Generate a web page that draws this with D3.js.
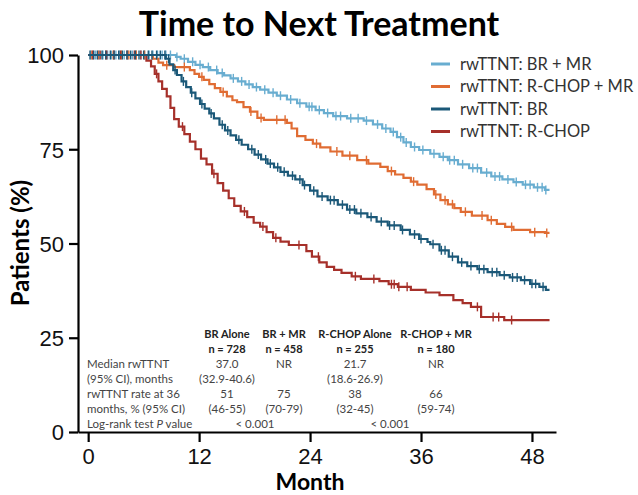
<!DOCTYPE html>
<html>
<head>
<meta charset="utf-8">
<script src="https://cdn.jsdelivr.net/npm/d3@7"></script>
<style>
  body { margin: 0; background: #fff; }
  svg { font-family: Lato, "Liberation Sans", Arial, sans-serif; }
</style>
</head>
<body>
<div id="chart"></div>
<script>
// KM step points: [month, % patients]
const brmr = [[0,100],[9,100],[9.5,99.5],[10,99],[10.8,98.2],[11.6,97.4],[12.4,96.8],[13.2,96],[14,95.2],[14.7,94.6],
  [15.4,93.8],[16.2,93],[17,92.2],[17.8,91.5],[18.6,90.8],[19.5,90],[20.4,89.2],[21.5,88.2],[22.6,87.2],[23.6,86.3],
  [24.6,85.4],[25.5,84.6],[26.5,83.8],[28,83.2],[29.8,82.6],[30.8,81.6],[31.8,80.5],[32.7,79.6],[33.4,78.2],[34.1,76.8],
  [34.9,75.6],[35.8,74.8],[37,73.8],[38,73],[38.9,72.1],[40,71],[41.2,70],[42.5,68.8],[43.6,67.8],[44.8,67],
  [46,66.3],[47,65.6],[48.2,64.9],[49.4,64.2],[49.9,64.2]];
const rchopmr = [[0,100],[6.7,100],[7,99],[7.6,98],[8.1,97.3],[9.3,96.8],[11,96],[11.5,95],[12,94.2],[12.5,93.4],
  [13.1,92.3],[13.7,91.2],[14.3,90.2],[15,89],[15.6,88],[16.1,87.5],[16.8,86.2],[17.5,85],[18.3,83.3],[19,82.8],
  [21.5,82],[22,80.5],[22.6,78.5],[23.5,77.5],[24.3,76.5],[25.1,75.5],[26.2,74.4],[27.5,73.3],[29.1,72.1],[30.3,71.2],
  [31.6,70.3],[32.4,69.2],[33.2,68.3],[34.1,67.4],[34.9,66.4],[35.6,65.6],[36.6,64.4],[37.4,63],[38.1,61.5],[38.9,60.4],
  [39.6,59.4],[40.3,58.4],[41.5,57.4],[43.2,56.2],[44.2,55.2],[45.1,54.4],[46,53.6],[47.8,53],[49.4,52.8],[49.9,52.8]];
const br = [[0,100],[8,100],[8.4,99],[8.8,97.5],[9.2,96],[9.6,94.7],[10.1,93],[10.6,91.5],[11.1,90],[11.6,88.5],
  [12.1,87],[12.6,85.8],[13.1,84.5],[13.6,83.2],[14.2,81.5],[14.8,80],[15.4,78.7],[16,77.5],[16.6,76.2],[17.3,75],
  [18,73.6],[18.7,72.3],[19.4,71.2],[20.1,70.2],[20.8,69],[21.6,68],[22.4,67],[23.2,65.5],[24,64],[24.8,62.5],
  [25.9,61.5],[27,60.3],[28,59],[29,58],[30.2,57],[31.2,55.8],[32.4,54.8],[33.8,53.6],[34.8,52.4],[35.8,51.2],
  [36.7,50.4],[37,49.8],[38,48.2],[39,46.5],[40,45],[41,44],[42.1,43.2],[43.2,42.4],[44.5,41.6],[45.6,41],
  [46.8,40.3],[47.8,39.3],[48.8,38.5],[49.5,37.7],[49.9,37.7]];
const rchop = [[0,100],[6,100],[6.3,98.5],[6.8,97],[7.2,95],[7.6,93],[8,91],[8.5,89],[8.9,86],[9.3,83],
  [9.8,81],[10.4,79],[11,77],[11.6,75],[12.2,72.5],[12.8,71],[13.4,68.5],[14,66],[14.6,64],[15.2,62],
  [15.8,60],[16.5,58.5],[17.2,57],[17.9,55.5],[18.6,54.5],[19.3,53],[20,51.5],[20.8,50.5],[21.7,49.6],[23.6,48],
  [24.2,46.5],[25,45],[25.8,43.8],[26.6,43],[27.4,42.2],[28.5,41.3],[29.5,40.6],[31.5,40],[32.5,39.2],[33.5,38.5],
  [34.9,37.7],[36.5,37],[38,36.3],[39.5,35],[40.5,34.2],[41.4,33.2],[42.5,30.5],[45,29.7],[49.9,29.7]];

// censor times (months)
const brmrCens = [0.3,0.8,1.2,1.6,2.1,2.5,3,3.4,3.9,4.3,4.8,5.2,5.7,6.1,6.6,7,7.5,8,8.4,8.9,9.6,10.4,11.3,12.1,13,
  13.9,14.5,15.7,16.6,17.4,18.2,19.1,20,20.8,21.9,22.9,23.9,24.2,25,25.9,26.8,27.3,28.4,29.2,30.1,31.3,32.2,33,33.8,
  34.4,35.3,36.2,37.4,38.4,39.1,39.6,40.5,41.6,42.1,43.1,44,44.5,45.4,46.3,47.3,47.8,48.6,49.1,49.5];
const brCens = [0.2,0.6,1,1.5,1.9,2.4,2.8,3.3,3.7,4.2,4.6,5.1,5.5,6,6.5,6.9,7.4,7.8,8.3,8.7,9.4,10.3,11.2,12.3,13.3,
  14.5,15.1,16.3,17.7,18.4,19.2,19.7,20.5,21.2,22.1,22.9,23.4,24.4,25.3,26.2,26.6,27.5,28.3,28.8,29.5,30.6,31.7,32.6,
  33.1,34,35.3,36,37.3,38.2,38.6,39.4,40.4,41.4,42.3,42.8,43.7,44.2,45,45.9,46.4,47.2,48,48.4,49.2];
const rchopCens = [0.5,1.3,2,2.8,3.5,4.2,5,5.7,7.4,10.2,13.6,16.9,18.9,20.3,22.8,24.9,28.9,30.9,32.8,33.1,33.6,34.5,
  42.1,43.8,44.4,45.8];
const rchopmrCens = [0.4,1.1,1.9,2.7,3.6,4.4,5.2,6.1,8.5,10.4,12.3,14.6,17.6,18.7,20.4,21.3,24.7,26.9,28.3,30.1,32.8,
  35.2,37.6,38.6,39.4,40.8,42.6,43.6,45.8,48.3,49.6];

const xTicks = [0, 12, 24, 36, 48];
const yTicks = [0, 25, 50, 75, 100];

const legendLabels = ["rwTTNT: BR + MR", "rwTTNT: R-CHOP + MR", "rwTTNT: BR", "rwTTNT: R-CHOP"];
const colors = ["#68add0", "#e06c33", "#1b5878", "#a6302a"];

// summary table
const tableRowLabels = ["Median rwTTNT", "(95% CI), months", "rwTTNT rate at 36", "months, % (95% CI)"];
const tableGroups = ["BR Alone", "BR + MR", "R-CHOP Alone", "R-CHOP + MR"];
const tableN = ["n = 728", "n = 458", "n = 255", "n = 180"];
const tableMedian = ["37.0", "NR", "21.7", "NR"];
const tableMedianCI = ["(32.9-40.6)", "", "(18.6-26.9)", ""];
const tableRate = ["51", "75", "38", "66"];
const tableRateCI = ["(46-55)", "(70-79)", "(32-45)", "(59-74)"];
const logRankP = ["< 0.001", "< 0.001"];

window.addEventListener("load", function(){
  drawChart();
});

function stepValue(data, m) {
  let v = data[0][1];
  for (const d of data) { if (d[0] <= m) v = d[1]; }
  return v;
}

function drawChart() {
  const width = 638, height = 495;
  const svg = d3.select("#chart").append("svg")
    .attr("width", width)
    .attr("height", height);

  const x = d3.scaleLinear().domain([-1.1, 50.6]).range([78, 556]);
  const y = d3.scaleLinear().domain([0, 100]).range([432, 55]);

  // title
  svg.append("text")
    .attr("x", 319).attr("y", 36)
    .attr("text-anchor", "middle")
    .style("font-size", "34px").style("font-weight", "bold")
    .text("Time to Next Treatment");

  // axes
  const xAxis = svg.append("g")
    .attr("transform", "translate(0,432)")
    .call(d3.axisBottom(x).tickValues(xTicks).tickSize(10).tickPadding(6).tickSizeOuter(0));
  const yAxis = svg.append("g")
    .attr("transform", "translate(78,0)")
    .call(d3.axisLeft(y).tickValues(yTicks).tickSize(9).tickPadding(5).tickSizeOuter(0));

  [xAxis, yAxis].forEach(a => {
    a.select(".domain").attr("stroke", "#000").attr("stroke-width", 2.2);
    a.selectAll(".tick line").attr("stroke", "#000").attr("stroke-width", 2.2);
    a.selectAll(".tick text").style("font-size", "22px").attr("fill", "#111");
  });
  yAxis.selectAll(".tick text").attr("dy", "0.36em");

  svg.append("text")
    .attr("x", 310).attr("y", 490)
    .attr("text-anchor", "middle")
    .style("font-size", "23px").style("font-weight", "bold")
    .text("Month");

  svg.append("text")
    .attr("transform", "translate(29,243) rotate(-90)")
    .attr("text-anchor", "middle")
    .style("font-size", "24px").style("font-weight", "bold")
    .text("Patients (%)");

  // curves
  const line = d3.line()
    .x(d => x(d[0]))
    .y(d => y(d[1]))
    .curve(d3.curveStepAfter);

  const series = [
    {data: brmr, cens: brmrCens, color: colors[0]},
    {data: rchopmr, cens: rchopmrCens, color: colors[1]},
    {data: rchop, cens: rchopCens, color: colors[3]},
    {data: br, cens: brCens, color: colors[2]}
  ];

  series.forEach(s => {
    const g = svg.append("g");
    g.append("path")
      .datum(s.data)
      .attr("d", line)
      .attr("fill", "none")
      .attr("stroke", s.color)
      .attr("stroke-width", 2.2);
    g.selectAll("line")
      .data(s.cens)
      .enter().append("line")
      .attr("x1", d => x(d)).attr("x2", d => x(d))
      .attr("y1", d => y(stepValue(s.data, d)) - 4.5)
      .attr("y2", d => y(stepValue(s.data, d)) + 4.5)
      .attr("stroke", s.color)
      .attr("stroke-width", 1.4);
  });

  // legend
  const legend = svg.selectAll(".legend")
    .data(legendLabels)
    .enter().append("g")
    .attr("class", "legend")
    .attr("transform", (d, i) => "translate(431," + (64 + i * 22.5) + ")");
  legend.append("line")
    .attr("x1", 0).attr("x2", 19)
    .attr("stroke", (d, i) => colors[i])
    .attr("stroke-width", 3);
  legend.append("text")
    .attr("x", 29).attr("dy", "0.35em")
    .style("font-size", "16.5px").attr("fill", "#333")
    .text(d => d);

  // table
  const colX = [227, 284, 355, 436];
  const rowY = [338, 353, 368, 383, 398, 413, 428];
  const tab = svg.append("g").style("font-size", "11.5px").attr("fill", "#444");

  tab.selectAll(".rowlab")
    .data(tableRowLabels.concat(["Log-rank test "]))
    .enter().append("text")
    .attr("x", 87).attr("y", (d, i) => rowY[i + 2])
    .text(d => d);
  const lr = tab.select("text:last-child");
  lr.append("tspan").style("font-style", "italic").text("P");
  lr.append("tspan").text(" value");

  const cols = [tableGroups, tableN, tableMedian, tableMedianCI, tableRate, tableRateCI];
  cols.forEach((row, r) => {
    tab.selectAll(".r" + r)
      .data(row)
      .enter().append("text")
      .attr("x", (d, i) => colX[i])
      .attr("y", rowY[r])
      .attr("text-anchor", "middle")
      .style("font-weight", r < 2 ? "bold" : "normal")
      .style("font-size", r < 2 ? "11px" : null)
      .attr("fill", r < 2 ? "#222" : "#444")
      .text(d => d);
  });
  tab.selectAll(".p")
    .data(logRankP)
    .enter().append("text")
    .attr("x", (d, i) => i === 0 ? 255 : 390)
    .attr("y", rowY[6])
    .attr("text-anchor", "middle")
    .text(d => d);
}
</script>
</body>
</html>
